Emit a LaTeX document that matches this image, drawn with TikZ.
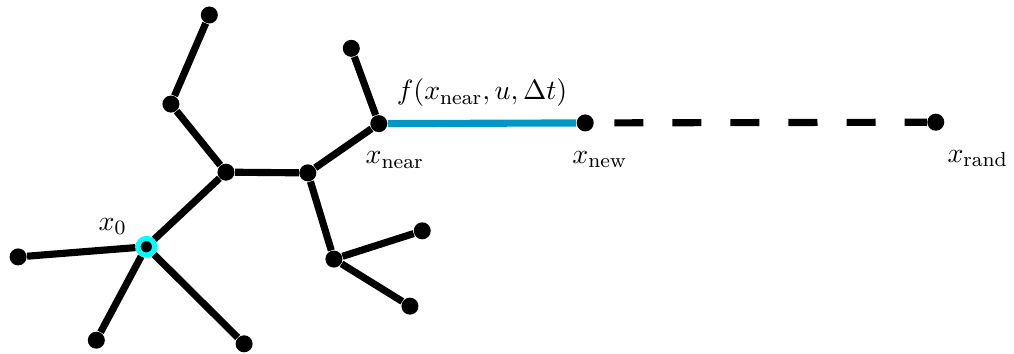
\documentclass[11pt,tikz,border=0pt]{standalone}
\usepackage{amsmath}
\usepackage{tikz}
\usetikzlibrary{positioning,backgrounds}
\definecolor{edgeblue}{RGB}{0,150,199}
\definecolor{ringcyan}{RGB}{0,255,255}

\begin{document}
\begin{tikzpicture}[
    vertex/.style={circle, fill=black, inner sep=0pt, minimum size=2.35mm},
    root/.style={vertex, draw=ringcyan, line width=2pt, minimum size=2.3mm},
    edge/.style={line width=2.8pt},
    node distance=0.5mm
]
\useasboundingbox (0,0) rectangle (14,4.887);

% tree vertices
\node[root] (x0) at (2.02,1.48) {};
\node[vertex] (left) at (0.25,1.34) {};
\node[vertex] (lowleft) at (1.33,0.19) {};
\node[vertex] (lowright) at (3.37,0.14) {};
\node[vertex] (fork) at (3.12,2.51) {};
\node[vertex] (bend) at (2.36,3.45) {};
\node[vertex] (tip) at (2.89,4.68) {};
\node[vertex] (mid) at (4.25,2.50) {};
\node[vertex] (near) at (5.23,3.18) {};
\node[vertex] (spur) at (4.85,4.22) {};
\node[vertex] (low) at (4.61,1.31) {};
\node[vertex] (up) at (5.83,1.70) {};
\node[vertex] (down) at (5.66,0.66) {};
\node[vertex] (new) at (8.08,3.19) {};
\node[vertex] (rand) at (12.92,3.20) {};

% labels
\node[above left=-0.7mm and 0.3mm of x0] (lx0) {$x_0$};
\node[below=1.3mm of near, xshift=2.2mm] (lnear) {$x_{\text{near}}$};
\node[below=1.3mm of new, xshift=2mm] (lnew) {$x_{\text{new}}$};
\node[below=1.3mm of rand, xshift=5.8mm] (lrand) {$x_{\text{rand}}$};

\begin{scope}[on background layer]
\foreach \i/\j in {x0/left, x0/lowleft, x0/lowright, x0/fork, fork/bend, bend/tip,
                   fork/mid, mid/near, near/spur, mid/low, low/up, low/down}
  \draw[edge] (\i) -- (\j);
\draw[edge, edgeblue] (near) -- (new)
  node[midway, above=0.5mm, text=black] (lf) {$f(x_{\text{near}}, u, \Delta t)$};
\draw[edge, dash pattern=on 11.4pt off 11.4pt, dash phase=14.9pt] (new) -- (rand);
\end{scope}
\end{tikzpicture}
\end{document}
